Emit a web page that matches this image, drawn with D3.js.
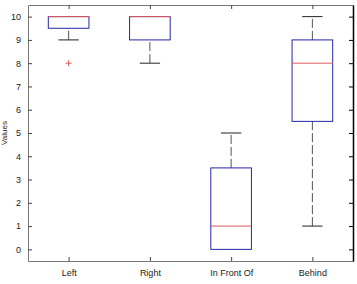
<!DOCTYPE html>
<html>
<head>
<meta charset="utf-8">
<script src="https://cdn.jsdelivr.net/npm/d3@7"></script>
<style>
  body { margin: 0; background: #fff; }
  text { font-family: "Liberation Sans", Arial, sans-serif; font-size: 9px; fill: #222; }
</style>
</head>
<body>
<div id="chart"></div>
<script>
// box plot data
const categories = ["Left", "Right", "In Front Of", "Behind"];
const q1Values     = [9.5, 9,  0,   5.5];
const medianValues = [10,  10, 1,   8];
const q3Values     = [10,  10, 3.5, 9];
const lowWhisker   = [9,   8,  0,   1];
const highWhisker  = [10,  10, 5,   10];
const outlierValues = [[8], [], [], []];
const yTicks = [0, 1, 2, 3, 4, 5, 6, 7, 8, 9, 10];

const W = 357, H = 284;
const m = {left: 28, right: 4, top: 5, bottom: 23};

let svg = d3.select("#chart").append("svg")
    .attr("width", W)
    .attr("height", H);

let x = d3.scaleLinear().domain([0.5, 4.5]).range([m.left, W - m.right]);
let y = d3.scaleLinear().domain([-0.5, 10.5]).range([H - m.bottom, m.top]);

let boxHalf = 0.25, capHalf = 0.125;

/**
 * Draw one box with whiskers for category i
 */
function drawBox(i) {
    let g = svg.append("g");
    let c = i + 1;
    // whiskers
    [[q3Values[i], highWhisker[i]], [lowWhisker[i], q1Values[i]]].forEach(function(w) {
        if (w[0] == w[1]) return;
        g.append("line")
            .attr("x1", x(c)).attr("x2", x(c))
            .attr("y1", y(w[0])).attr("y2", y(w[1]))
            .attr("stroke", "#555").attr("stroke-dasharray", "9,3");
    });
    // caps
    [lowWhisker[i], highWhisker[i]].forEach(function(v) {
        if (v == q1Values[i] || v == q3Values[i]) return;
        g.append("line")
            .attr("x1", x(c - capHalf)).attr("x2", x(c + capHalf))
            .attr("y1", y(v)).attr("y2", y(v))
            .attr("stroke", "#222");
    });
    g.append("rect")
        .attr("x", x(c - boxHalf))
        .attr("y", y(q3Values[i]))
        .attr("width", x(c + boxHalf) - x(c - boxHalf))
        .attr("height", y(q1Values[i]) - y(q3Values[i]))
        .attr("fill", "none")
        .attr("stroke", "#2626a8");
    g.append("line")
        .attr("x1", x(c - boxHalf)).attr("x2", x(c + boxHalf))
        .attr("y1", y(medianValues[i])).attr("y2", y(medianValues[i]))
        .attr("stroke", "#e05a5a");
    outlierValues[i].forEach(function(v) {
        g.append("path")
            .attr("d", "M" + (x(c) - 3) + "," + y(v) + "h6M" + x(c) + "," + (y(v) - 3) + "v6")
            .attr("stroke", "#e05a5a");
    });
}

// axes
let xAxis = d3.axisBottom(x).tickValues([1, 2, 3, 4])
    .tickFormat(function(d) { return categories[d - 1]; })
    .tickSizeInner(-4).tickSizeOuter(0).tickPadding(9);
let yAxis = d3.axisLeft(y).tickValues(yTicks).tickSizeInner(-4).tickSizeOuter(0).tickPadding(7);

svg.append("g").attr("transform", "translate(0," + (H - m.bottom) + ")").call(xAxis);
svg.append("g").attr("transform", "translate(" + m.left + ",0)").call(yAxis);
svg.append("g").attr("transform", "translate(0," + m.top + ")")
    .call(d3.axisTop(x).tickValues([1, 2, 3, 4]).tickFormat("").tickSizeInner(-4).tickSizeOuter(0));
let right = svg.append("g").attr("class", "right").attr("transform", "translate(" + (W - m.right) + ",0)")
    .call(d3.axisRight(y).tickValues(yTicks).tickFormat("").tickSizeInner(-4).tickSizeOuter(0));

svg.selectAll(".domain").attr("stroke", "#777");
svg.selectAll(".tick line").attr("stroke", "#444");
svg.selectAll(".tick text").style("fill", "#222").style("font-size", "9px");
right.select(".domain").attr("stroke", "#000").attr("stroke-width", 1.5);
right.selectAll(".tick line").attr("stroke", "#000");

for (let i = 0; i < categories.length; i++) drawBox(i);

svg.append("text")
    .attr("transform", "translate(7," + ((H - m.bottom + m.top) / 2) + ") rotate(-90)")
    .attr("text-anchor", "middle")
    .style("font-size", "8px")
    .text("Values");
</script>
</body>
</html>
